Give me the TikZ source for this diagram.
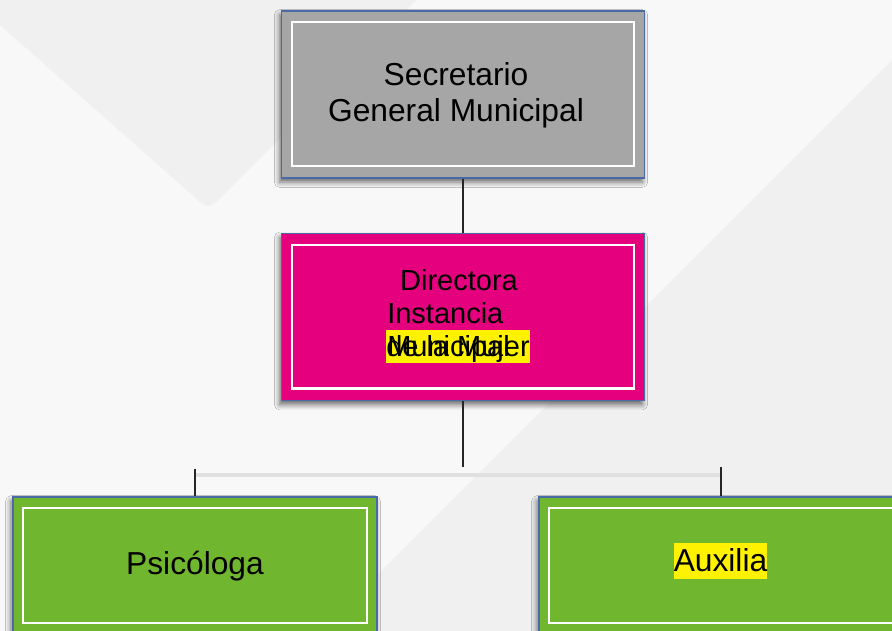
\documentclass[tikz,border=0pt]{standalone}
\usepackage{fontspec}
\setmainfont{Liberation Sans}
\usetikzlibrary{shadows.blur}
\definecolor{bordeazul}{HTML}{4A6AA5}
\definecolor{grissec}{HTML}{A6A6A6}
\definecolor{magenta}{HTML}{E5007D}
\definecolor{verde}{HTML}{70B62F}
\definecolor{fondo}{HTML}{F8F8F8}
\definecolor{fondoosc}{HTML}{F0F0F0}
\tikzset{
  caja/.style={draw=bordeazul, line width=0.8pt, minimum width=272pt, inner sep=0pt,
    blur shadow={shadow xshift=-1.5pt, shadow yshift=-3pt, shadow blur radius=4pt, shadow opacity=60},
    path picture={\draw[white, line width=1.6pt]
      ([xshift=7.5pt,yshift=-8.5pt]path picture bounding box.north west) rectangle
      ([xshift=-7.5pt,yshift=9pt]path picture bounding box.south east);}},
  texto/.style={font=\fontsize{21.75}{27}\selectfont, inner sep=0pt},
  grande/.style={font=\fontsize{23.8}{27}\selectfont, inner sep=0pt},
  resalte/.style={fill=yellow, text height=19.5pt, text depth=5pt},
  linea/.style={line width=0.8pt, black!85},
}
\begin{document}
\begin{tikzpicture}[x=0.75pt,y=-0.75pt]
\useasboundingbox (0,0) rectangle (892,631);
% fondo
\fill[fondo] (0,0) rectangle (892,631);
\fill[fondoosc] (0,0) -- (0,25) -- (190,193) .. controls (208,210) .. (226,193) -- (416,0) -- cycle;
\fill[fondoosc] (892,60) -- (321,631) -- (892,631) -- cycle;
% cajas
\node[caja, fill=grissec, minimum height=125.25pt] (sec) at (463,94.5) {};
\node[caja, fill=magenta, minimum height=125.25pt] (dir) at (463,317) {};
\node[caja, fill=verde, minimum height=103.5pt, minimum width=273pt] (psi) at (195,566) {};
\node[caja, fill=verde, minimum height=103.5pt, minimum width=273pt] (aux) at (721,566) {};
% textos
\node[grande, align=center] (tsec) at (456,95) {Secretario\\General Municipal};
\node[texto] (tdir) at (459,280) {Directora};
\node[texto, anchor=west] (tins) at (387,313) {Instancia};
\node[texto, resalte, anchor=west] (tmuj) at (386,346.5) {de la Mujer};
\node[texto, anchor=west, text height=19.5pt, text depth=5pt] (tmun) at (387,346.5) {Municipal};
\node[grande] (tpsi) at (195,566) {Psicóloga};
\node[grande, resalte, text height=21pt, text depth=6pt] (taux) at (720.5,561) {Auxilia};
% conectores
\coordinate (rama) at (463,467);
\coordinate (izq) at (195,469);
\coordinate (der) at (721,467);
\draw[linea] (sec) -- (dir);
\draw[linea] (dir) -- (rama);
\draw[black!12, line width=3pt] (izq |- 0,475) -- (der |- 0,475);
\draw[linea] (izq) -- (psi);
\draw[linea] (der) -- (aux);
\end{tikzpicture}
\end{document}
